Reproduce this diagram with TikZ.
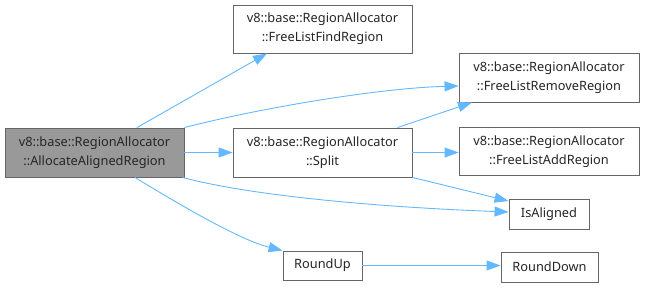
\documentclass[tikz,border=0pt]{standalone}
\usepackage{fontspec}
\setmainfont{Noto Sans}
\usetikzlibrary{arrows.meta,calc}
\definecolor{edgeblue}{HTML}{63B8FF}
\definecolor{boxline}{HTML}{666666}
\definecolor{boxfill}{HTML}{999999}
\begin{document}
\begin{tikzpicture}[x=1pt,y=-1pt,
  fn/.style={draw=boxline,line width=0.9pt,fill=white,rectangle,inner sep=0pt,
    align=center,font=\fontsize{12.8}{19}\selectfont,text=black!85},
  twoline/.style={fn,minimum width=179pt,minimum height=49pt},
  call/.style={draw=edgeblue,line width=0.9pt,
    -{Triangle[length=14pt,width=10pt]}}]
\useasboundingbox (0,0) rectangle (645,287);

% functions
\node[twoline,fill=boxfill] (alloc) at (94.5,152.5)
  {v8::base::RegionAllocator\\::AllocateAlignedRegion};
\node[twoline,minimum height=48pt] (find) at (322.5,29)
  {v8::base::RegionAllocator\\::FreeListFindRegion};
\node[twoline] (split) at (322.5,152.5)
  {v8::base::RegionAllocator\\::Split};
\node[twoline,minimum width=180pt] (remove) at (549,77.5)
  {v8::base::RegionAllocator\\::FreeListRemoveRegion};
\node[twoline,minimum width=180pt,minimum height=48pt] (add) at (549,151.5)
  {v8::base::RegionAllocator\\::FreeListAddRegion};
\node[fn,minimum width=80pt,minimum height=30pt] (aligned) at (549,214) {IsAligned};
\node[fn,minimum width=79pt,minimum height=29pt] (roundup) at (322.5,265.5) {RoundUp};
\node[fn,minimum width=97pt,minimum height=30pt] (rounddown) at (549.5,267) {RoundDown};

% calls
\draw[call] ([xshift=42.5pt]alloc.north) -- ([xshift=-55.5pt]find.south);
\draw[call] (alloc.north east) .. controls (260,108) and (380,88) .. ([yshift=-8.5pt]remove.west);
\draw[call] (alloc.east) -- (split.west);
\draw[call] ([xshift=-2pt]alloc.south east) .. controls (260,198) and (400,208) .. ([yshift=2pt]aligned.west);
\draw[call] ([xshift=40.5pt]alloc.south) .. controls (180,205) and (240,240) .. (roundup.north west);
\draw[call] ([xshift=75pt]split.north) -- ([xshift=-77pt]remove.south);
\draw[call] (split.east) -- (split.east -| add.west);
\draw[call] (split.south east) -- ([yshift=13pt]aligned.west);
\draw[call] (roundup.east) -- (roundup.east -| rounddown.west);
\end{tikzpicture}
\end{document}
